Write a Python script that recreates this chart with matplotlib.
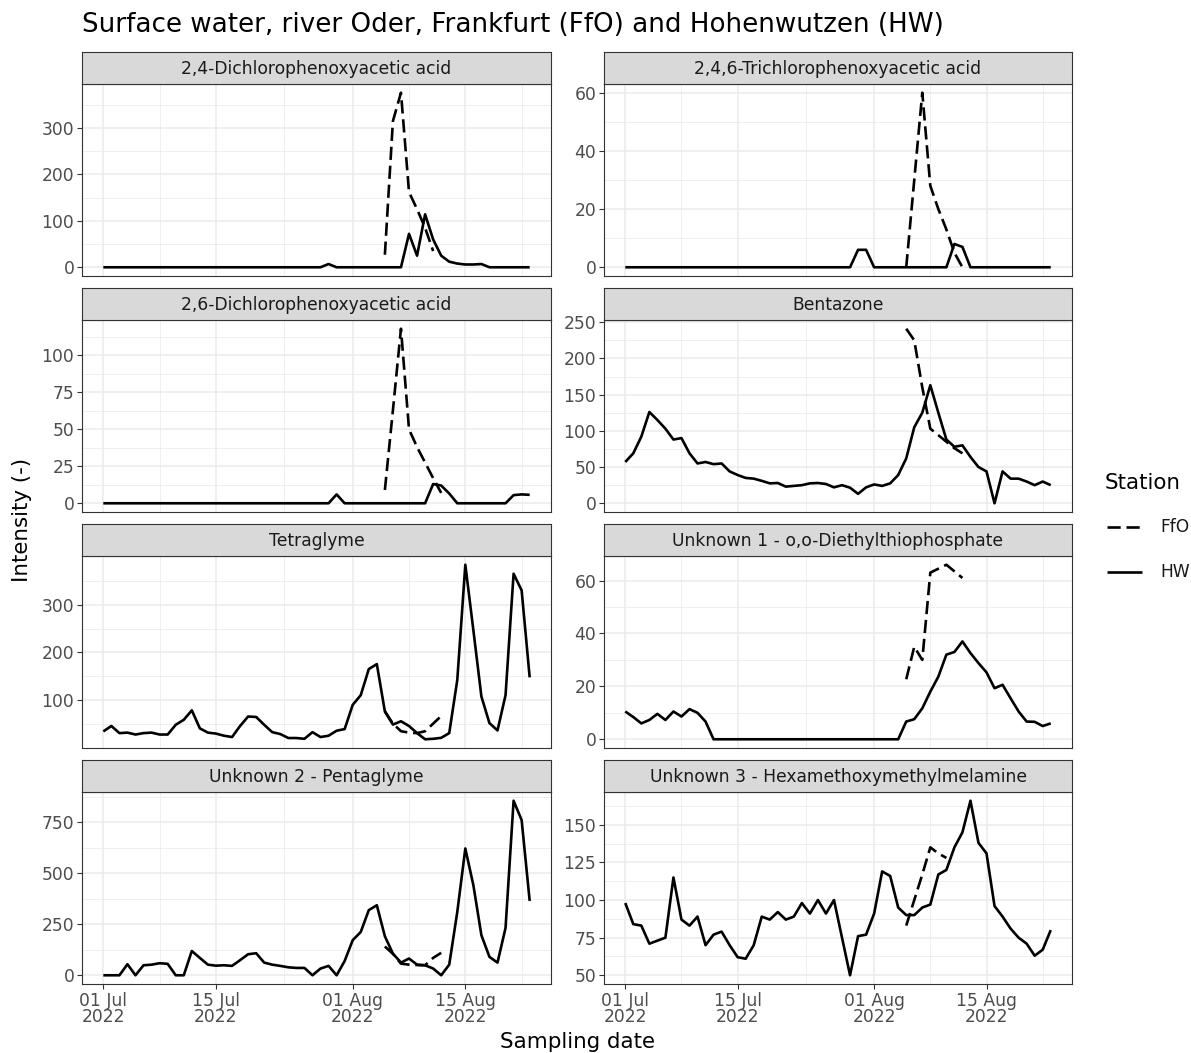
import matplotlib
matplotlib.use("Agg")
import matplotlib.pyplot as plt
import matplotlib.dates as mdates
import matplotlib.lines as mlines
import numpy as np
import pandas as pd

plt.rcParams['font.family'] = ['DejaVu Sans']

# sampling dates
hw_dates = pd.date_range("2022-07-01", "2022-08-23", freq="D")
ffo_dates = pd.date_range("2022-08-05", "2022-08-12", freq="D")

names = ["2,4-Dichlorophenoxyacetic acid", "2,4,6-Trichlorophenoxyacetic acid",
         "2,6-Dichlorophenoxyacetic acid", "Bentazone",
         "Tetraglyme", "Unknown 1 - o,o-Diethylthiophosphate",
         "Unknown 2 - Pentaglyme", "Unknown 3 - Hexamethoxymethylmelamine"]

# HW station, daily 01 Jul - 23 Aug
hw_24d = [0, 0, 0, 0, 0, 0, 0, 0, 0, 0, 0, 0, 0, 0, 0, 0, 0, 0, 0, 0,
          0, 0, 0, 0, 0, 0, 0, 0, 7, 0, 0, 0, 0, 0, 0, 0, 0, 0, 72, 25,
          114, 60, 25, 12, 8, 6, 6, 7, 0, 0, 0, 0, 0, 0]
hw_246t = [0, 0, 0, 0, 0, 0, 0, 0, 0, 0, 0, 0, 0, 0, 0, 0, 0, 0, 0, 0,
           0, 0, 0, 0, 0, 0, 0, 0, 0, 6, 6, 0, 0, 0, 0, 0, 0, 0, 0, 0,
           0, 8, 7, 0, 0, 0, 0, 0, 0, 0, 0, 0, 0, 0]
hw_26d = [0, 0, 0, 0, 0, 0, 0, 0, 0, 0, 0, 0, 0, 0, 0, 0, 0, 0, 0, 0,
          0, 0, 0, 0, 0, 0, 0, 0, 0, 6, 0, 0, 0, 0, 0, 0, 0, 0, 0, 0,
          0, 13, 12, 6.6, 0, 0, 0, 0, 0, 0, 0, 5.5, 6, 5.7]
hw_bent = [57, 69, 92, 126, 115, 103, 88, 90, 69, 55, 57, 54, 55, 44, 39, 35, 34, 31, 27.5, 28,
           23, 24, 25, 27.5, 28, 26.6, 22, 25, 21.5, 13, 22, 26, 24, 27.5, 39, 62, 105, 125, 163, 125,
           88, 78, 80, 64, 50, 44, 0, 44, 34, 34, 30, 25, 30, 25]
hw_tetra = [33.6, 45, 30, 31, 27, 30, 31, 27, 27, 47.5, 58, 78, 40, 31, 29, 24.5, 21.7, 45, 65, 64,
            47.5, 32, 28, 19.6, 19.6, 18, 32, 21.7, 24.5, 35, 38.5, 89.5, 110, 165, 175.5, 75.5, 48, 55, 45, 30,
            17, 18, 20, 30, 142, 385, 247, 107, 51, 35.7, 110, 366, 331, 147.5]
hw_unk1 = [10.5, 8.4, 6, 7.3, 9.6, 7.3, 10.5, 8.6, 11.4, 10, 6.7, 0, 0, 0, 0, 0, 0, 0, 0, 0,
           0, 0, 0, 0, 0, 0, 0, 0, 0, 0, 0, 0, 0, 0, 0, 6.7, 7.6, 11.7, 18, 23.7,
           32, 33, 37, 32.6, 28.8, 25.3, 19.3, 20.6, 15.5, 10.5, 6.7, 6.6, 5, 6]
hw_penta = [0, 0, 0, 54, 0, 49, 52, 59, 56, 0, 0, 119, 85, 52, 47, 49, 46, 74, 103, 108,
            62, 52, 46, 39, 36, 36, 0, 33, 46, 0, 70, 172, 212, 319, 343, 191, 106, 62, 82, 52,
            49, 33, 0, 52, 310, 621, 441, 196, 90, 62, 232, 855, 760, 364]
hw_hexa = [98, 84, 83, 71, 73, 75, 115, 87, 83, 89, 70, 77, 79, 70, 62, 61, 70, 89, 87, 92,
           87, 89, 98, 91, 100, 91, 100, 75, 50, 76, 77, 91, 119, 116, 95, 90, 90, 95, 97, 117,
           120, 135, 145, 166, 138, 131, 96, 89, 81, 75, 71, 63, 67, 80]

# FfO station, from 05 Aug
ffo_24d = [27, 315, 376, 162, 125, 85, 35]
ffo_246t = [0, 30, 60, 28, 20, 13, 5, 0]
ffo_26d = [9, 63, 118, 50, 38, 27.5, 17, 7]
ffo_bent = [241, 225, 160, 103, 94, 85, 76, 69]
ffo_tetra = [76, 50, 34, 31, 30, 34, 50, 66]
ffo_unk1 = [22.7, 35, 30, 63, 64.5, 66, 63.5, 61]
ffo_penta = [141, 105, 57, 52, 50, 49, 85, 110]
ffo_hexa = [83, 100, 117, 135, 131, 128]

# y breaks per facet
yb_24d = [0, 100, 200, 300]
yb_246t = [0, 20, 40, 60]
yb_26d = [0, 25, 50, 75, 100, 125]
yb_bent = [0, 50, 100, 150, 200, 250]
yb_tetra = [100, 200, 300]
yb_unk1 = [0, 20, 40, 60]
yb_penta = [0, 250, 500, 750]
yb_hexa = [50, 75, 100, 125, 150]

x_breaks = pd.to_datetime(["2022-07-01", "2022-07-15", "2022-08-01", "2022-08-15"])
x_labels = ["01 Jul\n2022", "15 Jul\n2022", "01 Aug\n2022", "15 Aug\n2022"]

panels = [
    (hw_24d, ffo_24d, yb_24d), (hw_246t, ffo_246t, yb_246t),
    (hw_26d, ffo_26d, yb_26d), (hw_bent, ffo_bent, yb_bent),
    (hw_tetra, ffo_tetra, yb_tetra), (hw_unk1, ffo_unk1, yb_unk1),
    (hw_penta, ffo_penta, yb_penta), (hw_hexa, ffo_hexa, yb_hexa),
]

W, H = 1191, 1053
fig = plt.figure(figsize=(W / 100, H / 100), dpi=100)

col_x = [(82, 551), (604, 1072)]
strip_h = 32
panel_h = 192
row_pitch = 236
top0 = 52

grid_col = "#EBEBEB"
dark = "#333333"
lw_data = 1.9
small = 12.3
big = 15.4


def fx(px):
    return px / W


def fy(py):
    return 1 - py / H


xnum = mdates.date2num(hw_dates)
xpad = (xnum[-1] - xnum[0]) * 0.05
xlim = (xnum[0] - xpad, xnum[-1] + xpad)
xmaj = mdates.date2num(x_breaks)
xmin_grid = list((xmaj[:-1] + xmaj[1:]) / 2) + [xmaj[-1] + (xmaj[-1] - xmaj[-2]) / 2]

for i, (hw, ffo, yb) in enumerate(panels):
    r, c = divmod(i, 2)
    x0, x1 = col_x[c]
    st = top0 + r * row_pitch
    pb = st + strip_h + panel_h

    ax = fig.add_axes([fx(x0), fy(pb), fx(x1 - x0), panel_h / H])
    sax = fig.add_axes([fx(x0), fy(st + strip_h), fx(x1 - x0), strip_h / H])
    sax.set_facecolor("#D9D9D9")
    sax.set_xticks([])
    sax.set_yticks([])
    for s in sax.spines.values():
        s.set_color(dark)
        s.set_linewidth(0.8)
    sax.text(0.5, 0.47, names[i], ha="center", va="center", fontsize=small, color="#1A1A1A",
             transform=sax.transAxes)

    ax.plot(mdates.date2num(ffo_dates[:len(ffo)]), ffo, color="black", lw=lw_data,
            dashes=(5, 2.2), dash_capstyle="butt", solid_joinstyle="round")
    ax.plot(xnum, hw, color="black", lw=lw_data, solid_capstyle="butt", solid_joinstyle="round")

    allv = np.array(list(hw) + list(ffo), dtype=float)
    lo, hi = allv.min(), allv.max()
    pad = (hi - lo) * 0.05

    step = yb[1] - yb[0]
    ymin_grid = [yb[0] - step / 2] + [v + step / 2 for v in yb]
    ax.set_yticks(yb)
    ax.set_yticks(ymin_grid, minor=True)
    ax.set_xticks(xmaj)
    ax.set_xticks(xmin_grid, minor=True)
    ax.set_ylim(lo - pad, hi + pad)
    ax.set_xlim(xlim)
    ax.grid(which="major", color=grid_col, lw=1.1)
    ax.grid(which="minor", color=grid_col, lw=0.55)
    ax.set_axisbelow(True)
    ax.tick_params(which="minor", length=0)
    ax.tick_params(which="major", length=3.5, width=0.8, color=dark, labelsize=small,
                   labelcolor="#4D4D4D", pad=2)
    if r == 3:
        ax.set_xticklabels(x_labels, linespacing=0.9)
    else:
        ax.tick_params(axis="x", which="major", length=0, labelbottom=False)
    for s in ax.spines.values():
        s.set_color(dark)
        s.set_linewidth(0.8)

fig.text(fx(82), fy(25), "Surface water, river Oder, Frankfurt (FfO) and Hohenwutzen (HW)",
         fontsize=18.8, ha="left", va="center", color="black")
fig.text(fx(22), fy(520), "Intensity (-)", rotation=90, fontsize=big, ha="center", va="center")
fig.text(fx(577), fy(1042), "Sampling date", fontsize=big, ha="center", va="center")

# legend
fig.text(fx(1105), fy(483), "Station", fontsize=big, ha="left", va="center")
kx = [fx(1107), fx(1142)]
fig.add_artist(mlines.Line2D(kx, [fy(527)] * 2, color="black", lw=lw_data, dashes=(5, 2.2),
                             dash_capstyle="butt", transform=fig.transFigure))
fig.add_artist(mlines.Line2D(kx, [fy(572)] * 2, color="black", lw=lw_data,
                             solid_capstyle="butt", transform=fig.transFigure))
fig.text(fx(1160), fy(527), "FfO", fontsize=small, ha="left", va="center", color="#1A1A1A")
fig.text(fx(1160), fy(572), "HW", fontsize=small, ha="left", va="center", color="#1A1A1A")

fig.savefig("out.png", dpi=100, facecolor="white")
